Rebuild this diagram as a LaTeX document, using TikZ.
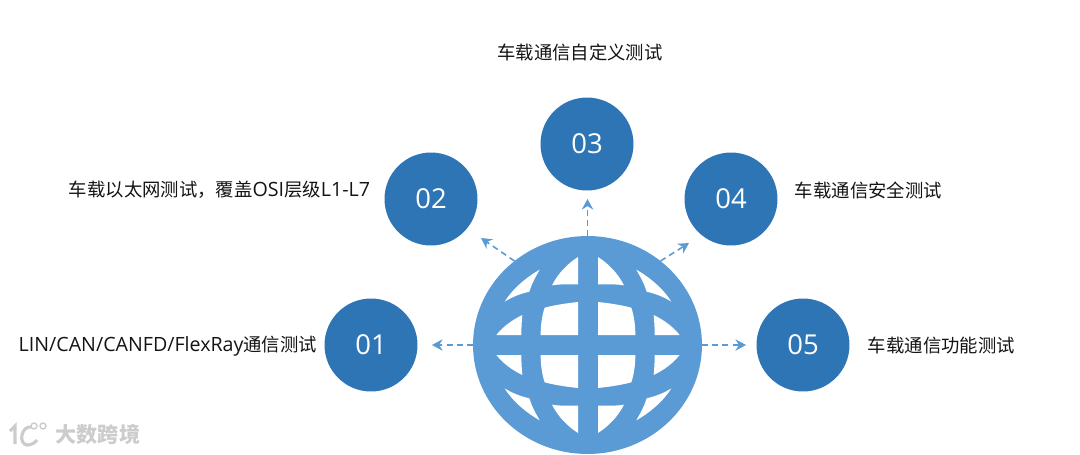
\documentclass[tikz,border=0pt]{standalone}
\usepackage{fontspec}
\setmainfont{Open Sans}[Scale=1.07]
\newfontfamily\cjk{Noto Sans CJK SC}
\usetikzlibrary{positioning, arrows.meta, shapes.geometric}
\definecolor{numblue}{HTML}{2E75B6}
\definecolor{globeblue}{HTML}{5B9BD5}

\begin{document}
\begin{tikzpicture}[
    x=0.02cm, y=-0.02cm,
    num/.style={circle, fill=numblue, text=white, minimum size=1.86cm, inner sep=0pt, outer sep=0pt, font=\fontsize{14.6}{18}\selectfont},
    lab/.style={inner sep=0pt, outer sep=0pt, text=black!92, font=\fontsize{10.45}{13}\selectfont},
    arr/.style={-{Stealth[length=6pt, width=6.5pt]}, globeblue, line width=0.9pt, dash pattern=on 3.4pt off 2.4pt},
    hole/.style={fill=white, draw=none}
]
    \useasboundingbox (0,0) rectangle (1080,454);

    \node[ellipse, fill=globeblue, minimum width=4.58cm, minimum height=4.36cm, inner sep=0pt, outer sep=0pt] (globe) at (587.5,345) {};
    % the same four holes in each quarter of the globe
    \foreach \sx/\sy in {1/1, -1/1, 1/-1, -1/-1} {
        \begin{scope}[shift={(588,345)}, xscale=\sx/3, yscale=\sy/3]
            \fill[hole] (30,264) -- (30,182) .. controls (55,182) and (85,183) .. (108,179) .. controls (90,215) and (60,245) .. (30,264) -- cycle;
            \fill[hole] (145,226) .. controls (160,200) and (170,180) .. (176,160) .. controls (205,153) and (230,143) .. (250,130) .. controls (225,170) and (185,203) .. (145,226) -- cycle;
            \fill[hole] (30,129) -- (30,30) -- (142,30) .. controls (142,60) and (138,88) .. (130,112) .. controls (100,120) and (60,126) .. (30,129) -- cycle;
            \fill[hole] (197,90) .. controls (199,70) and (200,50) .. (200,30) -- (275,30) .. controls (255,55) and (228,75) .. (197,90) -- cycle;
        \end{scope}
    }

    \node[num] (n01) at (371,345) {01};
    \node[num] (n02) at (431,199) {02};
    \node[num] (n03) at (587,144) {03};
    \node[num] (n04) at (731,199) {04};
    \node[num] (n05) at (803,345) {05};

    \node[lab, left=0.15cm of n01, yshift=-0.03cm] (lab01) {LIN/CAN/CANFD/FlexRay{\cjk 通信测试}};
    \node[lab, left=0.29cm of n02, yshift=0.18cm] (lab02) {{\cjk 车载以太网测试，覆盖}OSI{\cjk 层级}L1-L7};
    \node[lab, above=0.72cm of n03, xshift=-0.14cm] (lab03) {\cjk 车载通信自定义测试};
    \node[lab, right=0.35cm of n04, yshift=0.18cm] (lab04) {\cjk 车载通信安全测试};
    \node[lab, right=0.37cm of n05] (lab05) {\cjk 车载通信功能测试};

    \coordinate (tip01) at (432,345);
    \coordinate (tip02) at (481,238);
    \coordinate (tip03) at (587.5,199);
    \coordinate (tip04) at (689,243);
    \coordinate (tip05) at (746,345);

    \draw[arr] (globe.180) -- (tip01);
    \draw[arr] (globe.131) -- (tip02);
    \draw[arr] (globe.90) -- (tip03);
    \draw[arr] (globe.49) -- (tip04);
    \draw[arr] (globe.0) -- (tip05);

    % watermark
    \node[inner sep=0pt, text=black!20, font=\cjk\bfseries\fontsize{12}{14}\selectfont] (mark) at (98,434) {大数跨境};
    \draw[black!20, line width=1.8pt] (10,431) -- (15,426) -- (15,444);
    \draw[black!20, line width=1.8pt] (32,427) .. controls (21,425) and (18,444) .. (27,445) .. controls (31,445) and (35,443) .. (37,440);
    \draw[black!20, line width=0.8pt] (34,426) circle[radius=0.06cm] (43,426) circle[radius=0.06cm];
\end{tikzpicture}
\end{document}
